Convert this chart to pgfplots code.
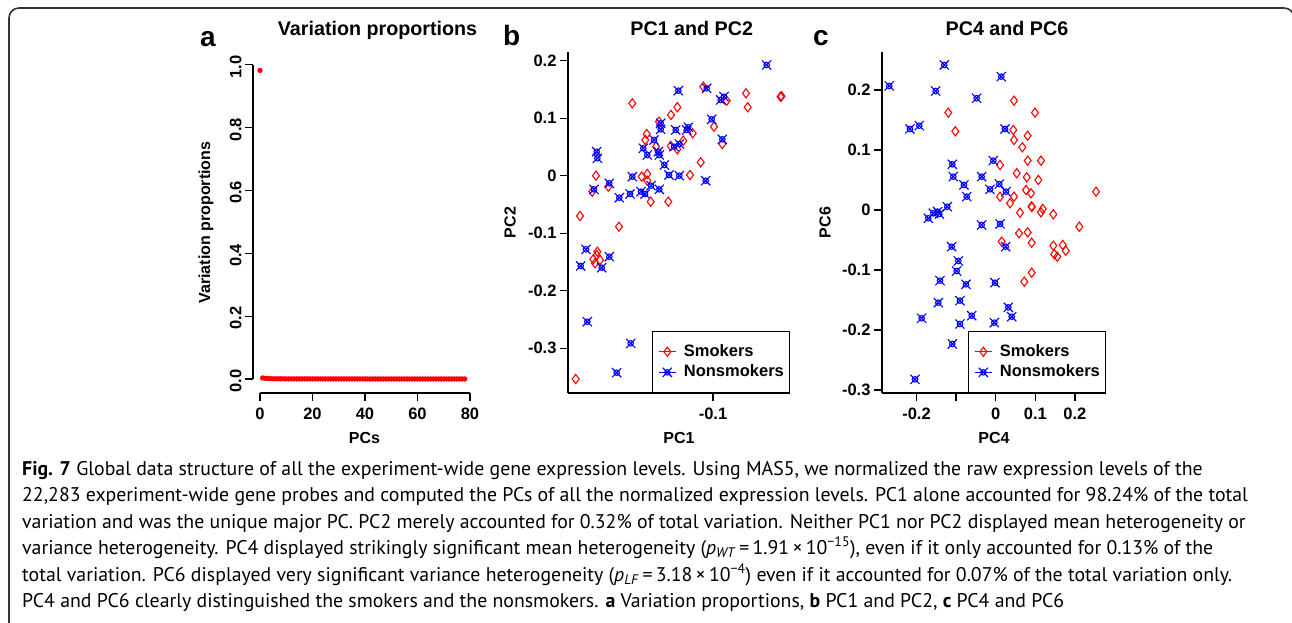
\documentclass[border=0pt]{standalone}
\usepackage{fontspec}
\setmainfont{Liberation Sans}
\newfontfamily\capfont{PT Sans}
\usepackage{pgfplots}
\pgfplotsset{compat=1.18}

% R style pch 4 + circle for nonsmokers
\pgfdeclareplotmark{xo}{%
  \pgfpathmoveto{\pgfqpoint{-\pgfplotmarksize}{-\pgfplotmarksize}}%
  \pgfpathlineto{\pgfqpoint{\pgfplotmarksize}{\pgfplotmarksize}}%
  \pgfpathmoveto{\pgfqpoint{-\pgfplotmarksize}{\pgfplotmarksize}}%
  \pgfpathlineto{\pgfqpoint{\pgfplotmarksize}{-\pgfplotmarksize}}%
  \pgfpathcircle{\pgfpointorigin}{0.6\pgfplotmarksize}%
  \pgfusepathqstroke
}

\definecolor{rred}{RGB}{255,0,0}
\definecolor{rblue}{RGB}{0,0,255}

\pgfplotsset{
  rstyle/.style={
    scale only axis,
    height=341pt,
    axis x line*=bottom,
    axis y line*=left,
    tick align=outside,
    major tick length=8pt,
    every tick/.style={black,line width=1.2pt},
    axis line style={black,line width=1.3pt},
    tick label style={font=\bfseries\fontsize{16.5}{18}\selectfont},
    xticklabel style={yshift=-3pt},
    label style={font=\bfseries\fontsize{16}{18}\selectfont},
    title style={font=\bfseries\fontsize{19.7}{22}\selectfont,anchor=base},
    clip=false,
    legend cell align=left,
    legend image code/.code={%
      \path (-8.5pt,0pt) -- (8.5pt,0pt);
      \draw[##1] plot coordinates {(0pt,0pt)};},
    legend style={at={(1,0)},anchor=south east,draw=black,line width=1.3pt,fill=white,
      font=\bfseries\fontsize{16.5}{18}\selectfont,
      inner xsep=5.5pt,inner ysep=12.5pt,row sep=5.6pt,column sep=7.5pt,
      nodes={inner sep=0pt,text height=12pt,text depth=3pt}},
  },
  smk/.style={only marks,mark=diamond,mark size=4.6pt,color=rred,line width=1.1pt},
  nsmk/.style={only marks,mark=xo,mark size=4.6pt,color=rblue,line width=1.1pt},
}

\begin{document}
\begin{tikzpicture}[x=1pt,y=1pt]
\useasboundingbox (0,0) rectangle (1292,622);
\draw[line width=1.6pt,black!80,rounded corners=10pt] (9,-20) rectangle (1294,614);

% panel letters
\node[anchor=base west,inner sep=0pt,font=\bfseries\fontsize{28}{30}\selectfont] at (200,575.3) {a};
\node[anchor=base west,inner sep=0pt,font=\bfseries\fontsize{28}{30}\selectfont] at (503,576) {b};
\node[anchor=base west,inner sep=0pt,font=\bfseries\fontsize{28}{30}\selectfont] at (813,576) {c};

%% a: variation proportions
\begin{axis}[rstyle,
  at={(253pt,229pt)},anchor=south west,
  width=223pt,
  xmin=-2.67,xmax=82.3,
  ymin=-0.0446,ymax=1.041,
  axis line style={draw=none},
  xtick={0,20,40,60,80},xticklabels={0,20,40,60,80},
  ytick={0,0.2,0.4,0.6,0.8,1},yticklabels={0.0,0.2,0.4,0.6,0.8,1.0},
  yticklabel style={rotate=90,anchor=south,xshift=-2pt},
  title={Variation proportions},
  title style={at={(axis description cs:0.5583,1.0302)}},
  xlabel={PCs},ylabel={Variation proportions},
  xlabel style={at={(axis description cs:0.5,-0.132)},anchor=center},
  ylabel style={at={(axis description cs:-0.2108,0.5)},anchor=center},
]
\addplot[only marks,mark=*,mark size=2.4pt,color=rred] table {
x y
0 0.9824
1 0.0032
2 0.0021
3 0.0013
4 0.0011
5 0.0007
6 0.0006
7 0.0005
8 0.0005
9 0.0004
10 0.0004
11 0.0003
12 0.0003
13 0.0003
14 0.0003
15 0.0003
16 0.0003
17 0.0003
18 0.0003
19 0.0003
20 0.0003
21 0.0002
22 0.0002
23 0.0002
24 0.0002
25 0.0002
26 0.0002
27 0.0002
28 0.0002
29 0.0002
30 0.0002
31 0.0002
32 0.0002
33 0.0002
34 0.0002
35 0.0002
36 0.0002
37 0.0002
38 0.0002
39 0.0002
40 0.0002
41 0.0001
42 0.0001
43 0.0001
44 0.0001
45 0.0001
46 0.0001
47 0.0001
48 0.0001
49 0.0001
50 0.0001
51 0.0001
52 0.0001
53 0.0001
54 0.0001
55 0.0001
56 0.0001
57 0.0001
58 0.0001
59 0.0001
60 0.0001
61 0.0001
62 0.0001
63 0.0001
64 0.0001
65 0.0001
66 0.0001
67 0.0001
68 0.0001
69 0.0001
70 0.0001
71 0.0001
72 0.0001
73 0.0001
74 0.0001
75 0.0001
76 0.0001
77 0.0001
78 0.0001
};
% R draws the axis lines only between the outer ticks
\draw[black,line width=1.3pt] (axis cs:0,-0.0446) -- (axis cs:80,-0.0446);
\draw[black,line width=1.3pt] (axis cs:-2.67,0) -- (axis cs:-2.67,1);
\end{axis}

%% b: PC1 and PC2
\begin{axis}[rstyle,
  at={(568pt,229pt)},anchor=south west,
  width=222pt,
  xmin=-0.129,xmax=-0.0846,
  ymin=-0.3779,ymax=0.2151,
  xtick={-0.1},xticklabels={-0.1},
  ytick={-0.3,-0.2,-0.1,0,0.1,0.2},yticklabels={-0.3,-0.2,-0.1,0,0.1,0.2},
  title={PC1 and PC2},
  title style={at={(axis description cs:0.5572,1.0302)}},
  xlabel={PC1},ylabel={PC2},
  xlabel style={at={(axis description cs:0.5,-0.132)},anchor=center},
  ylabel style={at={(axis description cs:-0.2613,0.5)},anchor=center},
]
\addplot[smk] table {
x y
-0.10194 0.1548
-0.0934 0.1433
-0.0865 0.1374
-0.0863 0.1381
-0.09726 0.1304
-0.11614 0.1259
-0.09306 0.1190
-0.10714 0.1190
-0.1084 0.1056
-0.1108 0.0939
-0.0998 0.0852
-0.10406 0.0737
-0.11326 0.0725
-0.11354 0.0621
-0.09814 0.0551
-0.10594 0.0609
-0.10846 0.0517
-0.10714 0.0459
-0.1114 0.0504
-0.10246 0.0233
-0.1234 0.0000
-0.11426 -0.0017
-0.11314 0.0030
-0.11314 -0.0087
-0.1046 0.0012
-0.12094 -0.0191
-0.12414 -0.0278
-0.11246 -0.0452
-0.10894 -0.0452
-0.1266 -0.0701
-0.1188 -0.0887
-0.12314 -0.1322
-0.12394 -0.1454
-0.1236 -0.1523
-0.1226 -0.1466
-0.12326 -0.1379
-0.12746 -0.3536
};
\addlegendentry{Smokers}
\addplot[nsmk] table {
x y
-0.08926 0.1925
-0.10126 0.1520
-0.10694 0.1478
-0.0978 0.1374
-0.09846 0.1317
-0.10026 0.0981
-0.11046 0.0911
-0.11046 0.0807
-0.10746 0.0795
-0.10494 0.0842
-0.10526 0.0795
-0.1118 0.0621
-0.09814 0.0633
-0.10674 0.0551
-0.1078 0.0504
-0.11394 0.0477
-0.11314 0.0360
-0.11094 0.0417
-0.11074 0.0360
-0.12326 0.0417
-0.12314 0.0303
-0.10974 0.0186
-0.11614 -0.0017
-0.1088 0.0012
-0.10674 0.0000
-0.10146 -0.0087
-0.12074 -0.0132
-0.1238 -0.0237
-0.1124 -0.0174
-0.11074 -0.0237
-0.1144 -0.0278
-0.1136 -0.0318
-0.1166 -0.0318
-0.11874 -0.0383
-0.1254 -0.1280
-0.12074 -0.1409
-0.12646 -0.1570
-0.12226 -0.1600
-0.12514 -0.2539
-0.11646 -0.2915
-0.11926 -0.3426
};
\addlegendentry{Nonsmokers}
\end{axis}

%% c: PC4 and PC6
\begin{axis}[rstyle,
  at={(882pt,229pt)},anchor=south west,
  width=224pt,
  xmin=-0.287,xmax=0.2785,
  ymin=-0.305,ymax=0.2633,
  xtick={-0.2,-0.1,0,0.1,0.2},xticklabels={-0.2,,0,0.1,0.2},
  ytick={-0.3,-0.2,-0.1,0,0.1,0.2},yticklabels={-0.3,-0.2,-0.1,0,0.1,0.2},
  title={PC4 and PC6},
  title style={at={(axis description cs:0.558,1.0302)}},
  xlabel={PC4},ylabel={PC6},
  xlabel style={at={(axis description cs:0.5,-0.132)},anchor=center},
  ylabel style={at={(axis description cs:-0.2545,0.5)},anchor=center},
]
\addplot[smk] table {
x y
0.0462 0.1822
0.0992 0.1622
-0.1197 0.1622
-0.1020 0.1312
0.0444 0.1333
0.0462 0.1167
0.0808 0.1238
0.0672 0.1045
0.0808 0.0822
0.1144 0.0822
0.0109 0.0750
0.0530 0.0612
0.0783 0.0545
0.1076 0.0500
0.0765 0.0333
0.0891 0.0278
0.2533 0.0305
0.0109 0.0222
0.0462 0.0222
0.0361 0.0112
0.0905 0.0060
0.0914 0.0050
0.0614 -0.0045
0.1187 0.0017
0.1144 -0.0038
0.1455 -0.0072
0.0152 -0.0528
0.0588 -0.0388
0.0808 -0.0372
0.0909 -0.0545
0.1455 -0.0595
0.1480 -0.0738
0.1556 -0.0778
0.1692 -0.0583
0.1768 -0.0678
0.2111 -0.0278
0.0909 -0.1045
0.0722 -0.1195
};
\addlegendentry{Smokers}
\addplot[nsmk] table {
x y
-0.2687 0.2067
-0.1298 0.2417
-0.1515 0.1983
0.0141 0.2222
-0.0480 0.1862
-0.2164 0.1350
-0.1929 0.1405
0.0235 0.1350
-0.1096 0.0762
-0.1071 0.0555
-0.0801 0.0417
-0.0732 0.0222
-0.0354 0.0555
-0.0061 0.0822
-0.0144 0.0345
0.0091 0.0433
0.0260 0.0305
-0.1222 0.0055
-0.1465 -0.0028
-0.1576 -0.0055
-0.1702 -0.0138
-0.1424 -0.0067
-0.0354 -0.0250
0.0109 -0.0233
-0.1111 -0.0612
0.0253 -0.0612
-0.0944 -0.0850
-0.0985 -0.1017
-0.1407 -0.1178
-0.0750 -0.1238
-0.0018 -0.1212
-0.1449 -0.1545
-0.0902 -0.1512
0.0318 -0.1622
0.0404 -0.1778
-0.1869 -0.1805
-0.0606 -0.1762
-0.0902 -0.1900
-0.0035 -0.1878
-0.1096 -0.2233
-0.2038 -0.2822
};
\addlegendentry{Nonsmokers}
\end{axis}

% caption
\begin{scope}[every node/.style={anchor=base west,inner sep=0pt,font=\capfont\fontsize{19.8}{22}\selectfont}]
\node at (22,147) {\textbf{Fig. 7} Global data structure of all the experiment-wide gene expression levels. Using MAS5, we normalized the raw expression levels of the};
\node at (22,120.5) {22,283 experiment-wide gene probes and computed the PCs of all the normalized expression levels. PC1 alone accounted for 98.24\% of the total};
\node at (22,94) {variation and was the unique major PC. PC2 merely accounted for 0.32\% of total variation. Neither PC1 nor PC2 displayed mean heterogeneity or};
\node at (22,67.5) {variance heterogeneity. PC4 displayed strikingly significant mean heterogeneity (\textit{p}\textsubscript{\textit{WT}}\,=\,1.91\,×\,10\textsuperscript{−15}), even if it only accounted for 0.13\% of the};
\node at (22,41) {total variation. PC6 displayed very significant variance heterogeneity (\textit{p}\textsubscript{\textit{LF}}\,=\,3.18\,×\,10\textsuperscript{−4}) even if it accounted for 0.07\% of the total variation only.};
\node at (22,15) {PC4 and PC6 clearly distinguished the smokers and the nonsmokers. \textbf{a} Variation proportions, \textbf{b} PC1 and PC2, \textbf{c} PC4 and PC6};
\end{scope}
\end{tikzpicture}
\end{document}
